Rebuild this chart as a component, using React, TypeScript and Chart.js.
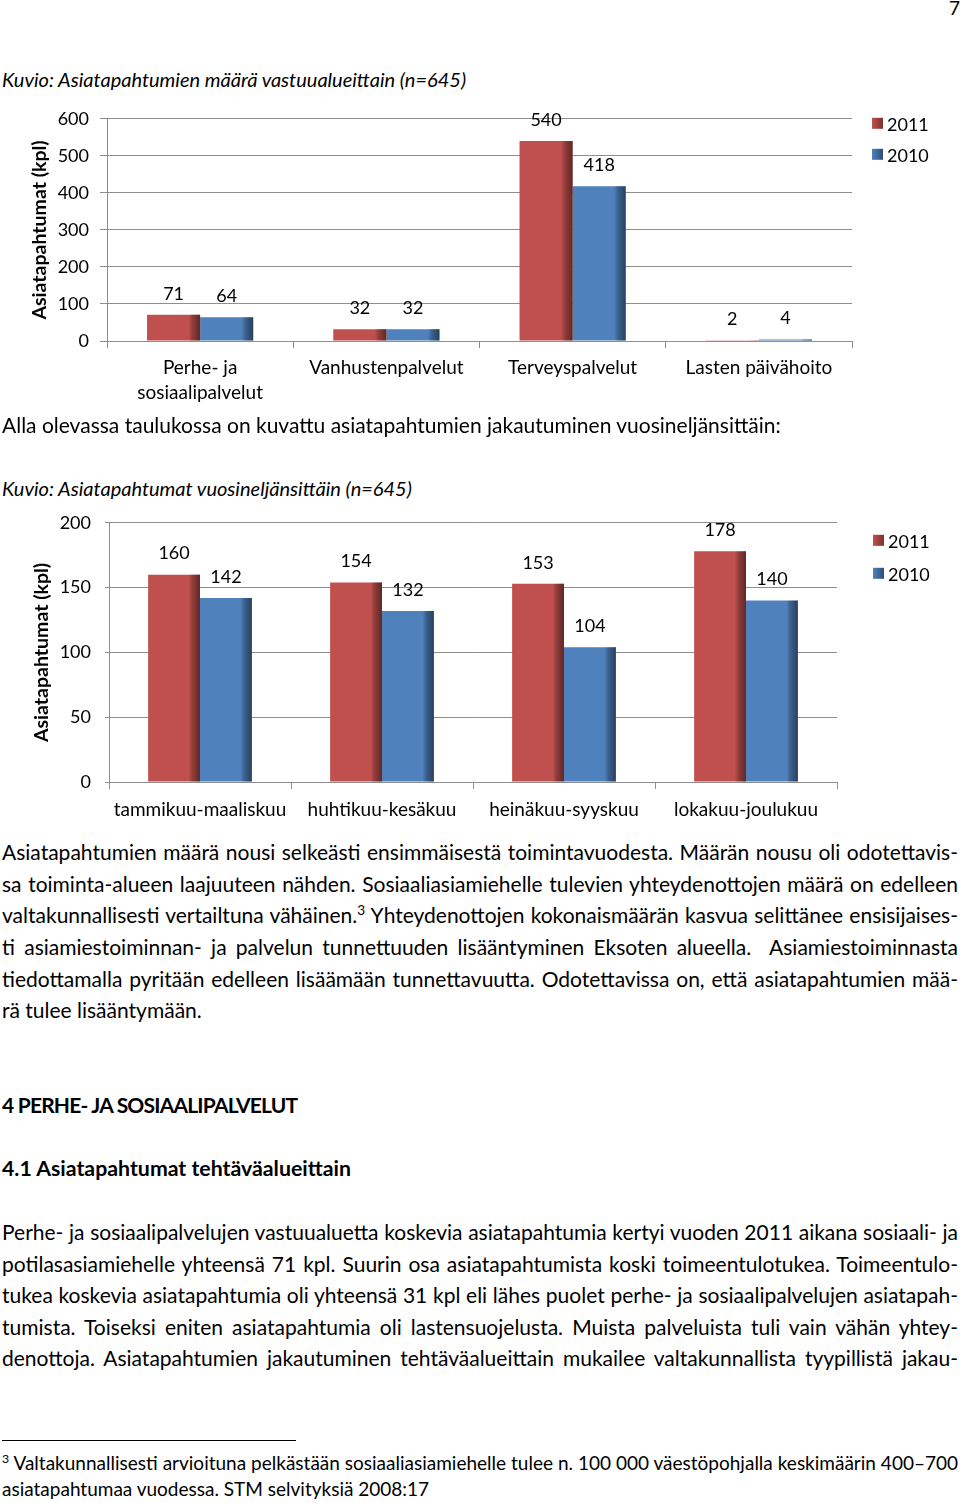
import React, { useEffect, useLayoutEffect, useRef } from "react";
import { Chart, registerables } from "chart.js";

Chart.register(...registerables);

const FONT = "Lato, 'Noto Sans', sans-serif";
Chart.defaults.font.family = FONT;

// ---------- data ----------
const seriesNames = ["2011", "2010"];
const areaCategories = [["Perhe- ja", "sosiaalipalvelut"], "Vanhustenpalvelut", "Terveyspalvelut", "Lasten päivähoito"];
const area2011 = [71, 32, 540, 2];
const area2010 = [64, 32, 418, 4];
const areaMax = 600;
const areaStep = 100;

const quarterCategories = ["tammikuu-maaliskuu", "huhtikuu-kesäkuu", "heinäkuu-syyskuu", "lokakuu-joulukuu"];
const quarter2011 = [160, 154, 153, 178];
const quarter2010 = [142, 132, 104, 140];
const quarterMax = 200;
const quarterStep = 50;

const yTitle1 = "Asiatapahtumat (kpl)";
const yTitle2 = "Asiatapahtumat (kpl)";

const RED = "#C0504D";
const BLUE = "#4F81BD";
const GRID = "#8e8e8e";

// ---------- plugins ----------
const barDecor = {
  id: "barDecor",
  afterDatasetsDraw(chart: any) {
    const { ctx } = chart;
    ctx.save();
    chart.data.datasets.forEach((ds: any, i: number) => {
      const meta = chart.getDatasetMeta(i);
      meta.data.forEach((el: any) => {
        const w = el.width;
        const left = el.x - w / 2;
        const h = el.base - el.y;
        if (h <= 0) return;
        const g = ctx.createLinearGradient(left + w * 0.78, 0, left + w, 0);
        g.addColorStop(0, "rgba(0,0,0,0)");
        g.addColorStop(0.35, "rgba(0,0,0,0.25)");
        g.addColorStop(1, "rgba(0,0,0,0.5)");
        ctx.fillStyle = g;
        ctx.fillRect(left + w * 0.78, el.y, w * 0.22, h);
      });
    });
    ctx.font = `18px ${FONT}`;
    ctx.fillStyle = "#000";
    ctx.textAlign = "center";
    ctx.textBaseline = "middle";
    chart.data.datasets.forEach((ds: any, i: number) => {
      const meta = chart.getDatasetMeta(i);
      meta.data.forEach((el: any, j: number) => {
        ctx.fillText(String(ds.data[j]), el.x, el.y - 21);
      });
    });
    ctx.restore();
  },
};

const sideLegend = {
  id: "sideLegend",
  afterDraw(chart: any, _args: any, opts: any) {
    const { ctx, chartArea } = chart;
    ctx.save();
    ctx.font = `18px ${FONT}`;
    ctx.textAlign = "left";
    ctx.textBaseline = "middle";
    chart.data.datasets.forEach((ds: any, i: number) => {
      const cy = chartArea.top + opts.dy + i * opts.gap;
      const sx = chartArea.right + opts.dx;
      const g = ctx.createLinearGradient(sx, 0, sx + 11, 0);
      g.addColorStop(0, ds.backgroundColor);
      g.addColorStop(1, ds.borderColor);
      ctx.fillStyle = g;
      ctx.fillRect(sx, cy - 6, 11, 11);
      ctx.fillStyle = "#000";
      ctx.fillText(ds.label, sx + 15, cy + 1);
    });
    ctx.restore();
  },
};

function makeConfig(
  labels: any[],
  d1: number[],
  d2: number[],
  max: number,
  step: number,
  title: string,
  g: { yWidth: number; xHeight: number; top: number; right: number; tick: number; tickPad: number; titlePad: number; xPad: number; legend: any }
): any {
  return {
    type: "bar",
    data: {
      labels,
      datasets: [
        { label: seriesNames[0], data: d1, backgroundColor: RED, borderColor: "#7d2f2d", borderWidth: 0 },
        { label: seriesNames[1], data: d2, backgroundColor: BLUE, borderColor: "#2d4e78", borderWidth: 0 },
      ],
    },
    options: {
      responsive: false,
      animation: false,
      events: [],
      categoryPercentage: 0.57,
      barPercentage: 1,
      layout: { padding: { left: 0, right: g.right, top: g.top, bottom: 0 } },
      plugins: {
        legend: { display: false },
        tooltip: { enabled: false },
        sideLegend: g.legend,
      },
      scales: {
        x: {
          grid: { display: true, drawOnChartArea: false, tickLength: 7, color: GRID, offset: true },
          border: { display: true, color: GRID },
          ticks: { color: "#000", font: { size: 19, lineHeight: 1.316 }, padding: g.xPad, maxRotation: 0, autoSkip: false },
          afterFit: (s: any) => {
            s.height = g.xHeight;
          },
        },
        y: {
          min: 0,
          max,
          ticks: { stepSize: step, color: "#000", font: { size: 18 }, padding: g.tickPad },
          grid: { color: GRID, tickLength: g.tick, drawTicks: true },
          border: { display: true, color: GRID },
          title: {
            display: true,
            text: title,
            color: "#000",
            font: { size: 19.5, weight: "bold" },
            padding: { top: g.titlePad, bottom: 0 },
          },
          afterFit: (s: any) => {
            s.width = g.yWidth;
          },
        },
      },
    },
    plugins: [barDecor, sideLegend],
  };
}

function BarChart({ top, height, config }: { top: number; height: number; config: any }) {
  const ref = useRef<HTMLCanvasElement>(null);
  useEffect(() => {
    if (!ref.current) return;
    const c = new Chart(ref.current, config);
    return () => c.destroy();
  }, []);
  return (
    <div style={{ position: "absolute", left: 0, top, width: 960, height }}>
      <canvas ref={ref} width={960} height={height} style={{ width: 960, height, display: "block" }} />
    </div>
  );
}

// ---------- text lines ----------
function Line({
  y,
  children,
  size = 21,
  weight = 400,
  italic = false,
  justify = false,
  left = 2,
  width = 956,
  lh = 32,
  ls = 0,
}: any) {
  const ref = useRef<HTMLSpanElement>(null);
  useLayoutEffect(() => {
    const el = ref.current;
    if (!el || !justify) return;
    el.style.wordSpacing = "0px";
    const w = el.getBoundingClientRect().width;
    const spaces = ((el.textContent || "").match(/ /g) || []).length;
    if (spaces > 0) el.style.wordSpacing = (width - w) / spaces + "px";
  }, []);
  return (
    <div
      style={{
        position: "absolute",
        left,
        top: y - lh / 2,
        height: lh,
        lineHeight: lh + "px",
        fontSize: size,
        fontWeight: weight,
        fontStyle: italic ? "italic" : "normal",
        letterSpacing: ls,
        whiteSpace: "pre",
      }}
    >
      <span ref={ref} style={{ display: "inline-block" }}>
        {children}
      </span>
    </div>
  );
}

const Sup = ({ children }: any) => (
  <span style={{ fontSize: "0.65em", position: "relative", top: "-0.6em" }}>{children}</span>
);

export default function App() {
  const cfg1 = makeConfig(areaCategories, area2011, area2010, areaMax, areaStep, yTitle1, {
    yWidth: 107,
    xHeight: 69,
    top: 15,
    right: 108,
    tick: 7,
    tickPad: 11,
    titlePad: 28,
    xPad: 7,
    legend: { dx: 20, dy: 5, gap: 31 },
  });
  const cfg2 = makeConfig(quarterCategories, quarter2011, quarter2010, quarterMax, quarterStep, yTitle2, {
    yWidth: 109,
    xHeight: 48,
    top: 10,
    right: 123,
    tick: 4,
    tickPad: 14,
    titlePad: 30,
    xPad: 8,
    legend: { dx: 36, dy: 18, gap: 33 },
  });

  return (
    <div
      style={{
        position: "absolute",
        left: 0,
        top: 0,
        width: 960,
        height: 1503,
        background: "#fff",
        color: "#000",
        fontFamily: FONT,
        overflow: "hidden",
      }}
    >
      <Line y={8} left={949} size={19}>7</Line>
      <Line y={79} italic size={20}>Kuvio: Asiatapahtumien määrä vastuualueittain (n=645)</Line>
      <BarChart top={97} height={313} config={cfg1} />
      <Line y={425}>Alla olevassa taulukossa on kuvattu asiatapahtumien jakautuminen vuosineljänsittäin:</Line>
      <Line y={488} italic size={20}>Kuvio: Asiatapahtumat vuosineljänsittäin (n=645)</Line>
      <BarChart top={498} height={332} config={cfg2} />

      <Line y={852} justify>Asiatapahtumien määrä nousi selkeästi ensimmäisestä toimintavuodesta. Määrän nousu oli odotettavis-</Line>
      <Line y={884} justify>sa toiminta-alueen laajuuteen nähden. Sosiaaliasiamiehelle tulevien yhteydenottojen määrä on edelleen</Line>
      <Line y={915} justify>
        valtakunnallisesti vertailtuna vähäinen.<Sup>3</Sup> Yhteydenottojen kokonaismäärän kasvua selittänee ensisijaises-
      </Line>
      <Line y={947} justify>ti asiamiestoiminnan- ja palvelun tunnettuuden lisääntyminen Eksoten alueella.  Asiamiestoiminnasta</Line>
      <Line y={979} justify>tiedottamalla pyritään edelleen lisäämään tunnettavuutta. Odotettavissa on, että asiatapahtumien mää-</Line>
      <Line y={1010}>rä tulee lisääntymään.</Line>

      <Line y={1105} weight={700} ls={-0.8}>4 PERHE- JA SOSIAALIPALVELUT</Line>
      <Line y={1168} weight={700} size={21.3}>4.1 Asiatapahtumat tehtäväalueittain</Line>

      <Line y={1232} justify>Perhe- ja sosiaalipalvelujen vastuualuetta koskevia asiatapahtumia kertyi vuoden 2011 aikana sosiaali- ja</Line>
      <Line y={1264} justify>potilasasiamiehelle yhteensä 71 kpl. Suurin osa asiatapahtumista koski toimeentulotukea. Toimeentulo-</Line>
      <Line y={1295} justify>tukea koskevia asiatapahtumia oli yhteensä 31 kpl eli lähes puolet perhe- ja sosiaalipalvelujen asiatapah-</Line>
      <Line y={1327} justify>tumista. Toiseksi eniten asiatapahtumia oli lastensuojelusta. Muista palveluista tuli vain vähän yhtey-</Line>
      <Line y={1358} justify>denottoja. Asiatapahtumien jakautuminen tehtäväalueittain mukailee valtakunnallista tyypillistä jakau-</Line>

      <div style={{ position: "absolute", left: 2, top: 1440, width: 294, height: 1, background: "#000" }} />
      <Line y={1463} size={19} lh={26} justify>
        <Sup>3</Sup> Valtakunnallisesti arvioituna pelkästään sosiaaliasiamiehelle tulee n. 100 000 väestöpohjalla keskimäärin 400–700
      </Line>
      <Line y={1489} size={19} lh={26}>asiatapahtumaa vuodessa. STM selvityksiä 2008:17</Line>
    </div>
  );
}
